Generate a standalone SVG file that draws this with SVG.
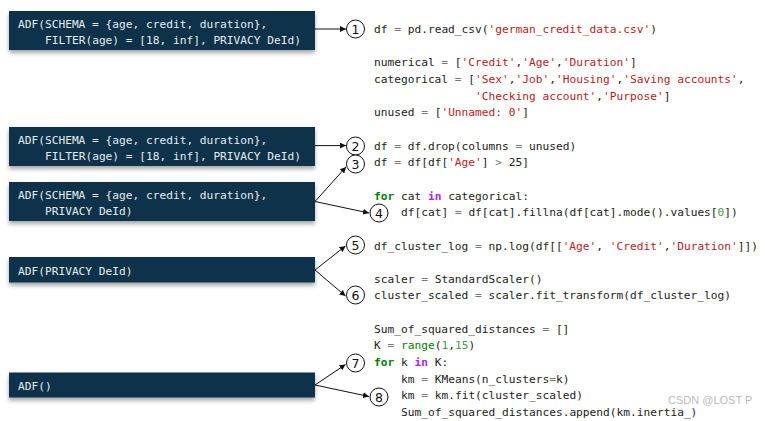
<svg xmlns="http://www.w3.org/2000/svg" width="765" height="421" viewBox="0 0 765 421">
<defs>
<filter id="sh" x="-5%" y="-30%" width="110%" height="180%">
<feDropShadow dx="0" dy="3" stdDeviation="2" flood-color="#000" flood-opacity="0.35"/>
</filter>
<marker id="ah" viewBox="0 0 10 10" refX="10" refY="5" markerWidth="6" markerHeight="6" orient="auto" markerUnits="userSpaceOnUse">
<path d="M0,0 L10,5 L0,10 z" fill="#111"/>
</marker>
</defs>
<style>
.box{fill:#073349;filter:url(#sh);}
.bt{font-family:"DejaVu Sans Mono","Liberation Mono",monospace;font-size:11.2px;fill:#e6ecef;}
.c{font-family:"DejaVu Sans Mono","Liberation Mono",monospace;font-size:11.2px;fill:#222;}
.s{fill:#ba2121;}
.k{fill:#008000;font-weight:bold;}
.b{fill:#008000;}
.p{fill:#aa22ff;font-weight:bold;}
.n{fill:#4a9a4a;}
.o{fill:#777;}
.circ{fill:#fff;stroke:#111;stroke-width:1;}
.num{font-family:"DejaVu Sans","Liberation Sans",sans-serif;font-size:12.5px;fill:#111;text-anchor:middle;}
.con{stroke:#111;stroke-width:1;fill:none;marker-end:url(#ah);}
.wm{font-family:"Liberation Sans",Arial,sans-serif;font-size:11px;fill:#bbb;}
</style>
<rect width="765" height="421" fill="#fff"/>

<g id="node-adf1">
<rect class="box" x="9" y="11" width="306" height="39"/>
<text class="bt" x="18" y="28" xml:space="preserve">ADF(SCHEMA = {age, credit, duration},</text>
<text class="bt" x="45" y="44" xml:space="preserve">FILTER(age) = [18, inf], PRIVACY DeId)</text>
</g>
<g id="node-adf2">
<rect class="box" x="9" y="127" width="306" height="39"/>
<text class="bt" x="18" y="144" xml:space="preserve">ADF(SCHEMA = {age, credit, duration},</text>
<text class="bt" x="45" y="160" xml:space="preserve">FILTER(age) = [18, inf], PRIVACY DeId)</text>
</g>
<g id="node-adf3">
<rect class="box" x="9" y="182" width="306" height="39"/>
<text class="bt" x="18" y="199" xml:space="preserve">ADF(SCHEMA = {age, credit, duration},</text>
<text class="bt" x="45" y="215" xml:space="preserve">PRIVACY DeId)</text>
</g>
<g id="node-adf4">
<rect class="box" x="9" y="257" width="306" height="25.5"/>
<text class="bt" x="18" y="274.5" xml:space="preserve">ADF(PRIVACY DeId)</text>
</g>
<g id="node-adf5">
<rect class="box" x="9" y="372.5" width="306" height="25"/>
<text class="bt" x="18" y="389.5" xml:space="preserve">ADF()</text>
</g>

<g id="connectors">
<line class="con" x1="315" y1="29" x2="346" y2="29"/>
<line class="con" x1="315" y1="145.6" x2="346" y2="145.6"/>
<line class="con" x1="315" y1="201.5" x2="346" y2="167"/>
<line class="con" x1="315" y1="201.5" x2="369" y2="213"/>
<line class="con" x1="315" y1="270" x2="345.5" y2="246"/>
<line class="con" x1="315" y1="270" x2="345.5" y2="296"/>
<line class="con" x1="315" y1="385" x2="345.5" y2="364.5"/>
<line class="con" x1="315" y1="385" x2="369" y2="396.5"/>
</g>

<g id="step-1"><circle class="circ" cx="355.5" cy="29" r="9"/><text class="num" x="355.5" y="33.5">1</text></g>
<g id="step-2"><circle class="circ" cx="355.5" cy="146" r="9"/><text class="num" x="355.5" y="150.5">2</text></g>
<g id="step-3"><circle class="circ" cx="355.5" cy="164" r="9"/><text class="num" x="355.5" y="168.5">3</text></g>
<g id="step-4"><circle class="circ" cx="379" cy="213" r="9"/><text class="num" x="379" y="217.5">4</text></g>
<g id="step-5"><circle class="circ" cx="355.5" cy="245" r="9"/><text class="num" x="355.5" y="249.5">5</text></g>
<g id="step-6"><circle class="circ" cx="355.5" cy="295" r="9"/><text class="num" x="355.5" y="299.5">6</text></g>
<g id="step-7"><circle class="circ" cx="355.5" cy="363" r="9"/><text class="num" x="355.5" y="367.5">7</text></g>
<g id="step-8"><circle class="circ" cx="379" cy="397" r="9"/><text class="num" x="379" y="401.5">8</text></g>

<g id="code">
<text class="c" x="374" y="33" xml:space="preserve">df <tspan class="o">=</tspan> pd.read_csv(<tspan class="s">'german_credit_data.csv'</tspan>)</text>
<text class="c" x="374" y="66.3" xml:space="preserve">numerical <tspan class="o">=</tspan> [<tspan class="s">'Credit'</tspan>,<tspan class="s">'Age'</tspan>,<tspan class="s">'Duration'</tspan>]</text>
<text class="c" x="374" y="83" xml:space="preserve">categorical <tspan class="o">=</tspan> [<tspan class="s">'Sex'</tspan>,<tspan class="s">'Job'</tspan>,<tspan class="s">'Housing'</tspan>,<tspan class="s">'Saving accounts'</tspan>,</text>
<text class="c" x="475.1" y="99.6" xml:space="preserve"><tspan class="s">'Checking account'</tspan>,<tspan class="s">'Purpose'</tspan>]</text>
<text class="c" x="374" y="116.3" xml:space="preserve">unused <tspan class="o">=</tspan> [<tspan class="s">'Unnamed: 0'</tspan>]</text>
<text class="c" x="374" y="149.6" xml:space="preserve">df <tspan class="o">=</tspan> df.drop(columns <tspan class="o">=</tspan> unused)</text>
<text class="c" x="374" y="166.2" xml:space="preserve">df <tspan class="o">=</tspan> df[df[<tspan class="s">'Age'</tspan>] <tspan class="o">&gt;</tspan> 25]</text>
<text class="c" x="374" y="199.5" xml:space="preserve"><tspan class="k">for</tspan> cat <tspan class="p">in</tspan> categorical:</text>
<text class="c" x="401" y="216.2" xml:space="preserve">df[cat] <tspan class="o">=</tspan> df[cat].fillna(df[cat].mode().values[<tspan class="n">0</tspan>])</text>
<text class="c" x="374" y="249.5" xml:space="preserve">df_cluster_log <tspan class="o">=</tspan> np.log(df[[<tspan class="s">'Age'</tspan>, <tspan class="s">'Credit'</tspan>,<tspan class="s">'Duration'</tspan>]])</text>
<text class="c" x="374" y="282.8" xml:space="preserve">scaler <tspan class="o">=</tspan> StandardScaler()</text>
<text class="c" x="374" y="299.4" xml:space="preserve">cluster_scaled <tspan class="o">=</tspan> scaler.fit_transform(df_cluster_log)</text>
<text class="c" x="374" y="332.7" xml:space="preserve">Sum_of_squared_distances <tspan class="o">=</tspan> []</text>
<text class="c" x="374" y="349.4" xml:space="preserve">K <tspan class="o">=</tspan> <tspan class="b">range</tspan>(<tspan class="n">1</tspan>,<tspan class="n">15</tspan>)</text>
<text class="c" x="374" y="366" xml:space="preserve"><tspan class="k">for</tspan> k <tspan class="p">in</tspan> K:</text>
<text class="c" x="401" y="382.7" xml:space="preserve">km <tspan class="o">=</tspan> KMeans(n_clusters<tspan class="o">=</tspan>k)</text>
<text class="c" x="401" y="399.3" xml:space="preserve">km <tspan class="o">=</tspan> km.fit(cluster_scaled)</text>
<text class="c" x="401" y="416" xml:space="preserve">Sum_of_squared_distances.append(km.inertia_)</text>
</g>

<text class="wm" x="668" y="404">CSDN @LOST P</text>
</svg>
